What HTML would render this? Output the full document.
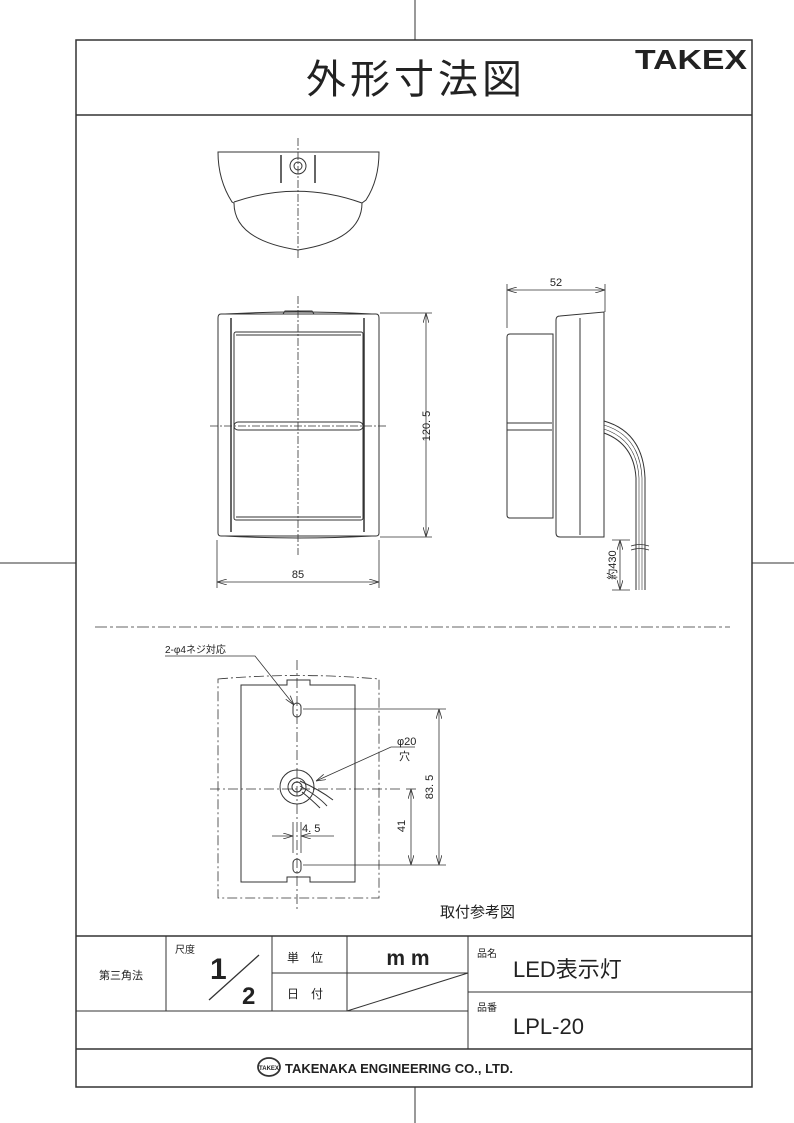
<!DOCTYPE html>
<html><head><meta charset="utf-8"><style>
html,body{margin:0;padding:0;background:#fff}
svg{display:block}
text{font-family:"Liberation Sans","Noto Sans CJK JP",sans-serif;fill:#222}
</style></head><body>
<svg width="794" height="1123" viewBox="0 0 794 1123" xmlns="http://www.w3.org/2000/svg">
<defs>
<marker id="a" viewBox="0 0 10 6" refX="10" refY="3" markerWidth="10" markerHeight="6" orient="auto-start-reverse" markerUnits="userSpaceOnUse"><path d="M0,0 L10,3 L0,6" fill="none" stroke="#333" stroke-width="0.8"/></marker>
</defs>
<g stroke="#333" fill="none" stroke-width="1">
<line x1="415" y1="0" x2="415" y2="40"/><line x1="415" y1="1087" x2="415" y2="1123"/>
<line x1="0" y1="563" x2="76" y2="563"/><line x1="752" y1="563" x2="794" y2="563"/>
<rect x="76" y="40" width="676" height="1047" stroke-width="1.5"/>
<line x1="76" y1="115" x2="752" y2="115" stroke-width="1.5"/>
<line x1="76" y1="936" x2="752" y2="936" stroke-width="1.5"/>
<line x1="76" y1="1011" x2="468" y2="1011"/>
<line x1="76" y1="1049" x2="752" y2="1049" stroke-width="1.5"/>
<line x1="166" y1="936" x2="166" y2="1011"/>
<line x1="272" y1="936" x2="272" y2="1011"/>
<line x1="347" y1="936" x2="347" y2="1011"/>
<line x1="468" y1="936" x2="468" y2="1049"/>
<line x1="272" y1="973" x2="468" y2="973"/>
<line x1="468" y1="992" x2="752" y2="992"/>
<line x1="347" y1="1011" x2="468" y2="973"/>
<line x1="209" y1="1000" x2="259" y2="955" stroke-width="1.3"/>

<line x1="298" y1="138" x2="298" y2="260" stroke-dasharray="8,2,2,2" stroke-width="0.8"/>
<path d="M218,152 L379,152 Q379,180 366,200 L362,203 Q362,240 298,250 Q234,240 234,203 L232,202 Q218,180 218,152 Z"/>
<path d="M234,202 Q298,180 362,203"/>
<circle cx="298" cy="166" r="8"/><circle cx="298" cy="166" r="4"/>
<line x1="281" y1="155" x2="281" y2="183" stroke-width="1.5"/><line x1="315" y1="155" x2="315" y2="183" stroke-width="1.5"/>

<line x1="298" y1="296" x2="298" y2="555" stroke-dasharray="8,2,2,2" stroke-width="0.8"/>
<line x1="210" y1="426" x2="388" y2="426" stroke-dasharray="8,2,2,2" stroke-width="0.8"/>
<path d="M221,314 L376,314 Q379,314 379,318 L379,533 Q379,536 376,536 L221,536 Q218,536 218,533 L218,318 Q218,314 221,314 Z"/>
<path d="M225,314 Q298,310 372,314 M225,536 Q298,540 372,536"/>
<line x1="231" y1="318" x2="231" y2="532" stroke-width="1.5"/><line x1="364" y1="318" x2="364" y2="532" stroke-width="1.5"/>
<rect x="234" y="332" width="129" height="188" rx="2"/>
<line x1="236" y1="335" x2="361" y2="335"/><line x1="236" y1="517" x2="361" y2="517"/>
<rect x="234" y="422" width="129" height="8" rx="4"/>
<path d="M283,314 L285,311 L312,311 L314,314"/>
<line x1="380" y1="313" x2="432" y2="313" stroke-width="0.8"/><line x1="380" y1="537" x2="432" y2="537" stroke-width="0.8"/>
<line x1="426" y1="313" x2="426" y2="537" stroke-width="0.8" marker-start="url(#a)" marker-end="url(#a)"/>
<line x1="217" y1="540" x2="217" y2="588" stroke-width="0.8"/><line x1="379" y1="540" x2="379" y2="588" stroke-width="0.8"/>
<line x1="217" y1="582" x2="379" y2="582" stroke-width="0.8" marker-start="url(#a)" marker-end="url(#a)"/>

<line x1="507" y1="284" x2="507" y2="328" stroke-width="0.8"/><line x1="605" y1="284" x2="605" y2="312" stroke-width="0.8"/>
<line x1="507" y1="290" x2="605" y2="290" stroke-width="0.8" marker-start="url(#a)" marker-end="url(#a)"/>
<path d="M510,334 L553,334 L553,518 L510,518 Q507,518 507,515 L507,337 Q507,334 510,334 Z"/>
<line x1="507" y1="423" x2="552" y2="423"/><line x1="507" y1="430" x2="552" y2="430"/>
<path d="M560,316 L604,312 L604,537 L560,537 Q556,537 556,533 L556,320 Q556,316 560,316 Z"/>
<line x1="580" y1="318" x2="580" y2="535"/>
<path d="M604,421 Q643,432 645,478 L645,590"/>
<path d="M604,425 Q640,436 642,478 L642,590" stroke-width="0.6"/>
<path d="M604,429 Q637,440 639,478 L639,590" stroke-width="0.6"/>
<path d="M604,433 Q634,444 636,478 L636,590"/>
<path d="M631,546 Q640,543 649,546 M631,550 Q640,547 649,550" stroke-width="0.8"/>
<line x1="612" y1="540" x2="630" y2="540" stroke-width="0.8"/><line x1="612" y1="590" x2="630" y2="590" stroke-width="0.8"/>
<line x1="620" y1="540" x2="620" y2="590" stroke-width="0.8" marker-start="url(#a)" marker-end="url(#a)"/>

<line x1="95" y1="627" x2="730" y2="627" stroke-dasharray="12,3,3,3" stroke-width="0.8"/>

<path d="M218,679 Q298,672 379,679 L379,898 L218,898 Z" stroke-dasharray="10,3,2,3" stroke-width="0.8"/>
<path d="M241,685 L287,685 L287,680 L310,680 L310,685 L355,685 L355,882 L310,882 L310,877 L287,877 L287,882 L241,882 Z"/>
<line x1="297" y1="660" x2="297" y2="912" stroke-dasharray="10,3,2,3" stroke-width="0.8"/>
<line x1="210" y1="789" x2="400" y2="789" stroke-dasharray="10,3,2,3" stroke-width="0.8"/>
<rect x="293" y="703" width="8" height="14" rx="4"/>
<rect x="293" y="859" width="8" height="14" rx="4"/>
<circle cx="297" cy="787" r="17"/><circle cx="297" cy="787" r="9"/><circle cx="297" cy="787" r="5"/>
<path d="M300,781 Q320,790 333,800 M300,786 Q318,796 327,806 M302,792 Q312,800 320,808"/>
<line x1="303" y1="709" x2="446" y2="709" stroke-width="0.8"/><line x1="303" y1="865" x2="446" y2="865" stroke-width="0.8"/>
<line x1="439" y1="709" x2="439" y2="865" stroke-width="0.8" marker-start="url(#a)" marker-end="url(#a)"/>
<line x1="406" y1="789" x2="416" y2="789" stroke-width="0.8"/>
<line x1="411" y1="789" x2="411" y2="865" stroke-width="0.8" marker-start="url(#a)" marker-end="url(#a)"/>
<line x1="293" y1="822" x2="293" y2="853" stroke-width="0.8"/><line x1="301" y1="822" x2="301" y2="853" stroke-width="0.8"/>
<line x1="272" y1="836" x2="293" y2="836" stroke-width="0.8" marker-end="url(#a)"/>
<line x1="334" y1="836" x2="301" y2="836" stroke-width="0.8" marker-end="url(#a)"/>
<polyline points="165,656 255,656 294,705" stroke-width="0.8" marker-end="url(#a)"/>
<polyline points="415,747 391,747 316,781" stroke-width="0.8" marker-end="url(#a)"/>
<ellipse cx="269" cy="1067" rx="11" ry="9" stroke-width="1.8"/>
</g>
<text x="416" y="93" font-size="40" text-anchor="middle" letter-spacing="4">外形寸法図</text>
<text x="635" y="69" font-size="28" font-weight="bold" textLength="112" lengthAdjust="spacingAndGlyphs">TAKEX</text>
<text x="430" y="426" font-size="11" transform="rotate(-90 430 426)" text-anchor="middle">120. 5</text>
<text x="298" y="578" font-size="11" text-anchor="middle">85</text>
<text x="556" y="286" font-size="11" text-anchor="middle">52</text>
<text x="616" y="565" font-size="11" transform="rotate(-90 616 565)" text-anchor="middle">約430</text>
<text x="165" y="653" font-size="10">2-φ4ネジ対応</text>
<text x="397" y="745" font-size="11">φ20</text>
<text x="399" y="760" font-size="11">穴</text>
<text x="405" y="826" font-size="11" transform="rotate(-90 405 826)" text-anchor="middle">41</text>
<text x="433" y="787" font-size="11" transform="rotate(-90 433 787)" text-anchor="middle">83. 5</text>
<text x="302" y="832" font-size="11">4. 5</text>
<text x="440" y="917" font-size="15">取付参考図</text>
<text x="121" y="979" font-size="11" text-anchor="middle">第三角法</text>
<text x="175" y="953" font-size="10">尺度</text>
<text x="210" y="979" font-size="30" font-weight="bold">1</text>
<text x="242" y="1004" font-size="24" font-weight="bold">2</text>
<text x="287" y="962" font-size="12">単　位</text>
<text x="287" y="998" font-size="12">日　付</text>
<text x="408" y="965" font-size="21" font-weight="bold" text-anchor="middle">m m</text>
<text x="477" y="957" font-size="10">品名</text>
<text x="513" y="977" font-size="22">LED表示灯</text>
<text x="477" y="1011" font-size="10">品番</text>
<text x="513" y="1034" font-size="22">LPL-20</text>
<text x="269" y="1070" font-size="6" font-weight="bold" text-anchor="middle">TAKEX</text>
<text x="285" y="1073" font-size="13" font-weight="bold">TAKENAKA ENGINEERING CO., LTD.</text>
</svg>
</body></html>
